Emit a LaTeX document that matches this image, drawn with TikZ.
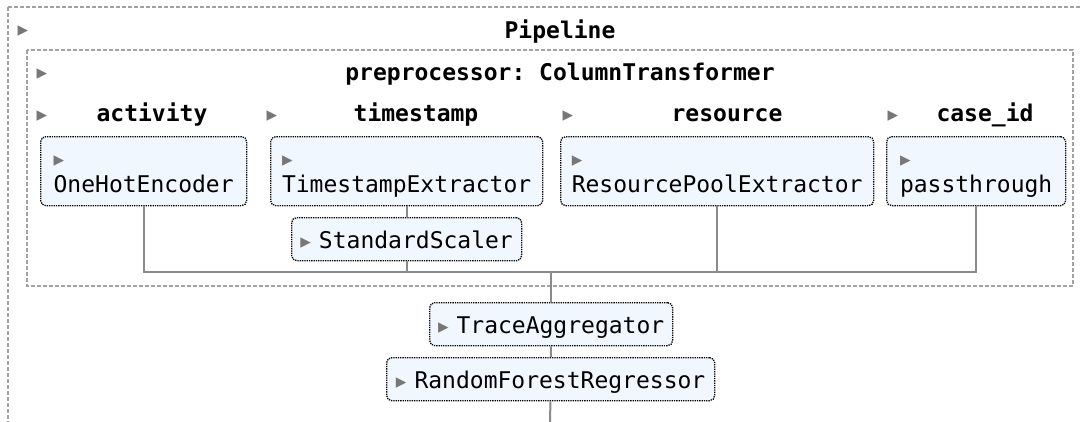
\documentclass[tikz,border=0pt]{standalone}
\usepackage{fontspec}
\setmonofont{DejaVu Sans Mono}
\newfontfamily\symfont{DejaVu Sans}
\usepackage{xcolor}
\definecolor{estfill}{HTML}{F0F7FE}
\definecolor{wiregray}{HTML}{8A8A8A}
\definecolor{dashgray}{HTML}{A2A2A2}
\definecolor{trigray}{HTML}{777777}
\usetikzlibrary{positioning}
\newcommand{\tri}{{\color{trigray}\fontsize{21}{21}\selectfont\symfont ▸}}
\newcommand{\estlabel}[1]{\rule{0pt}{22pt}\tri\\#1\rule[-5pt]{0pt}{5pt}}
\tikzset{
  est/.style    ={draw=black, densely dotted, line width=1.3pt, rounded corners=5pt,
                  fill=estfill, anchor=north west, inner sep=0pt, align=left,
                  font=\ttfamily\fontsize{23}{26}\selectfont},
  esttall/.style={est, minimum height=69},
  estflat/.style={est, minimum height=43, text height=22pt, text depth=3pt},
  grp/.style    ={draw=dashgray, dash pattern=on 4pt off 2pt, line width=1.3pt},
  hdr/.style    ={font=\ttfamily\bfseries\fontsize{23}{26}\selectfont, inner sep=0pt, anchor=base},
  trimark/.style={inner sep=0pt, text=trigray, font=\symfont\fontsize{21}{21}\selectfont},
  wire/.style   ={draw=wiregray, line width=2pt},
}

\begin{document}
\begin{tikzpicture}[x=1pt, y=-1pt]
  \useasboundingbox (0,0) rectangle (1082,421);
  \clip (0,0) rectangle (1082,421);
  \fill[white] (0,0) rectangle (1082,421);
  % groups
  \draw[grp] (8,7) rectangle (1095,440);
  \draw[grp] (27,50) rectangle (1073,286);
  % headers
  \node[trimark] (tpipe) at (23,31) {▸};
  \node[hdr] (pipe) at (560,38.5) {Pipeline};
  \node[trimark] (tprep) at (42,74) {▸};
  \node[hdr] (prep) at (560,80.5) {preprocessor: ColumnTransformer};
  \node[trimark] (tact) at (42,116) {▸};
  \node[hdr] (act) at (152,121) {activity};
  \node[trimark] (tts) at (272,116) {▸};
  \node[hdr] (ts) at (416,121) {timestamp};
  \node[trimark] (tres) at (568,116) {▸};
  \node[hdr] (res) at (727,121) {resource};
  \node[trimark] (tcase) at (893,116) {▸};
  \node[hdr] (case) at (985,121) {case\_id};
  % estimators
  \node[esttall, minimum width=206] (ohe) at (40,136) {\estlabel{OneHotEncoder}};
  \node[esttall, minimum width=272] (tse) at (270,136) {\estlabel{TimestampExtractor}};
  \node[esttall, minimum width=313] (rpe) at (560,136) {\estlabel{ResourcePoolExtractor}};
  \node[esttall, minimum width=179] (pass) at (886,136) {\estlabel{passthrough}};
  \node[estflat, minimum width=230] (scaler) at (291,217) {\tri\hspace{8pt}StandardScaler};
  \node[estflat, minimum width=243] (trace) at (429,302) {\tri\hspace{8pt}TraceAggregator};
  \node[estflat, minimum width=328] (rfr) at (386,357) {\tri\hspace{8pt}RandomForestRegressor};
  % wires
  \coordinate (join) at (551,272);
  \coordinate (out) at (550,430);
  \draw[wire] (tse) -- (scaler);
  \draw[wire] (ohe.south) |- (join);
  \draw[wire] (scaler.south) |- (join);
  \draw[wire] (pass.south) |- (join);
  \draw[wire] (rpe.south) |- (join);
  \draw[wire] (join) -- (join |- trace.north);
  \draw[wire] (trace) -- (rfr);
  \draw[wire] (rfr) -- (out);
\end{tikzpicture}
\end{document}
